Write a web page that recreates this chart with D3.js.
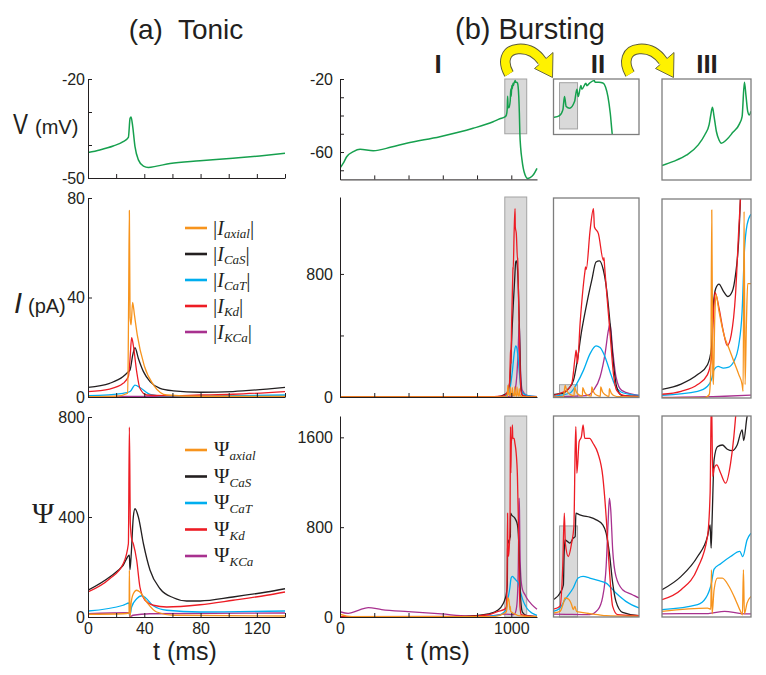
<!DOCTYPE html>
<html><head><meta charset="utf-8">
<script src="https://cdn.jsdelivr.net/npm/d3@7"></script>
<style>body{margin:0;background:#fff}</style>
</head><body><script>
// ---------------- DATA ----------------
const seriesNames = ["axial","CaS","CaT","Kd","KCa"];
// (a) Tonic: [t (ms), value]
const tonicV = [[0,-42.3],[8.4,-41.5],[17.9,-40.3],[25,-39],[28.7,-37.7],[29.9,-31.9],[30.6,-31.5],[31.8,-34.5],[33.4,-40.5],[35.8,-44.5],[39.4,-46.4],[42.9,-46.8],[48.8,-46.4],[58.3,-45.6],[79.6,-44.8],[103,-44],[122,-43.3],[140,-42.5]];
const tonicIaxial = [[0,0.1],[20,0.3],[28.2,1.5],[28.9,40],[29.4,75],[29.9,32],[30.6,29],[31.7,38],[33,33],[35,25],[40,12.5],[47,4.5],[56,0.8],[80,0.3],[140,0.2]];
const tonicICaS = [[0,3.9],[15.4,5.5],[25,8.2],[28.7,10.2],[29.9,10.9],[31.8,16.9],[33.4,19.8],[35.8,15.5],[39.4,10.2],[44.1,6.2],[51.2,3.5],[60.7,2.5],[79.6,1.9],[103,2.2],[127,3.2],[140,3.9]];
const tonicICaT = [[0,0.5],[25,1.5],[29.9,2.2],[33.4,4.8],[36.9,3.8],[44.1,1.1],[55.9,0.3],[103,0.5],[140,0.8]];
const tonicIKd = [[0,2.2],[15.4,3.2],[25,5.5],[28.7,8.2],[29.9,15.5],[31,23.9],[32.2,20.8],[34.6,10.2],[36.9,3.5],[41.7,0.8],[55.9,0.5],[79.6,0.8],[103,1.1],[140,2.2]];
const tonicIKCa = [[0,0.2],[70,0.2],[140,0.2]];
const tonicPaxial = [[0,11],[25,13],[29.2,16],[29.4,187],[29.8,0],[30.6,53],[32.2,93],[34.6,107],[36.9,100],[41.7,60],[48.8,20],[60.7,7],[140,4]];
const tonicPCaS = [[0,107],[15.4,160],[25,207],[29.4,247],[29.8,189],[30.6,240],[32.2,400],[33.4,433],[35.8,400],[39.4,293],[44.1,187],[51.2,113],[60.7,77],[70.1,64],[79.6,64],[103,80],[127,100],[140,113]];
const tonicPCaT = [[0,24],[25,47],[29.3,56],[29.8,7],[31,40],[34.6,73],[38.2,85],[41,76],[46.4,45],[55.9,27],[79.6,20],[140,24]];
const tonicPKd = [[0,100],[15.4,153],[25,213],[28.7,293],[29.4,760],[30.1,373],[31,313],[32.2,293],[34.6,227],[36.9,120],[40.5,67],[46.4,47],[55.9,40],[79.6,49],[103,67],[127,87],[140,100]];
const tonicPKCa = [[0,13],[29.2,17],[29.8,0],[32,7],[44,13],[140,16]];

// (b) Bursting, whole cycle (panels I and II)
const burstV = [[0,-68.8],[20,-66],[39,-62.6],[78,-59.8],[117,-58.5],[194,-59.3],[300,-57.3],[389,-55.2],[583,-51.6],[777,-47],[894,-43.4],[933,-41.8],[962,-40.8],[971,-39.8],[976,-36.7],[978.5,-29.5],[981,-34.9],[986,-35.8],[993.5,-32.2],[997,-25.5],[999,-29.5],[1003,-23.5],[1004.5,-25.5],[1010.5,-22.3],[1012,-23.6],[1016,-22.2],[1023,-20.8],[1024.5,-21.8],[1030,-21.8],[1036,-22.2],[1040,-24.4],[1043.5,-29.5],[1047,-38.5],[1050,-50],[1055,-58],[1062,-64],[1070,-69],[1080,-72.5],[1095,-74.5],[1110,-74],[1130,-72.3],[1150,-69]];
const burstIaxial = [[0,0.5],[960,1],[977,3],[979.4,76],[982,40],[987,15],[992.8,8],[993.4,65],[996,35],[1000,14],[1005.2,6],[1005.8,61],[1008.5,32],[1012,14],[1018.7,6],[1019.3,65],[1022,33],[1026,13],[1032.1,5],[1032.7,65],[1035.5,32],[1040,13],[1045.1,4],[1045.7,54],[1048.5,25],[1053,8],[1060,2],[1090,1],[1150,0.5]];
const burstICaS = [[0,0.5],[900,2],[940,6],[962,17],[977,26],[984.4,54],[991.9,108],[996.9,217],[1004.3,434],[1011.8,607],[1019.3,759],[1025.7,878],[1030.7,885],[1036.7,824],[1041.7,694],[1046.7,477],[1051.7,217],[1056.6,65],[1064.1,11],[1090,3],[1150,1]];
const burstICaT = [[0,0.2],[940,2],[962,6],[986.9,26],[996.9,87],[1006.8,173],[1016.8,282],[1025.7,332],[1031.7,321],[1039.2,260],[1046.7,163],[1054.1,76],[1066.6,26],[1090,11],[1150,2]];
const burstIKd = [[0,0.5],[900,2],[940,5],[962,11],[977,33],[982,43],[989.4,87],[994.4,260],[995.9,304],[997.9,217],[1001.8,477],[1009.3,824],[1010,846],[1011,830],[1016.8,1084],[1021.8,1225],[1023.3,1105],[1029.2,1062],[1036.7,889],[1037.5,905],[1038.5,850],[1041.7,672],[1046.7,412],[1051.7,152],[1056.6,43],[1066.6,11],[1090,4],[1150,1]];
const burstIKCa = [[0,0.5],[962,2],[1011.8,9],[1021.8,43],[1031.7,130],[1039.2,282],[1044.2,434],[1046.7,477],[1050.6,304],[1055.6,130],[1064.1,43],[1090,11],[1150,3]];
const burstPaxial = [[0,25],[40,8],[100,3],[900,4],[962,36],[971.8,50],[976.8,124],[979.2,169],[984.2,160],[989.1,110],[991.5,65],[994,95],[996.5,50],[1003.8,41],[1008.8,36],[1016.2,30],[1028.5,21],[1040.8,12],[1090,6],[1150,3]];
const burstPCaS = [[0,2],[700,4],[787,12],[865,27],[923,62],[953,121],[962,154],[971.8,213],[976.8,287],[977.8,539],[979.2,687],[982.7,673],[986.6,658],[991.5,702],[994.5,717],[995.5,924],[1001.4,910],[1006.3,901],[1016.2,889],[1026,865],[1035.8,821],[1040.8,747],[1045.7,569],[1050.6,302],[1055.5,139],[1065.4,41],[1090,12],[1150,3]];
const burstPCaT = [[0,1],[800,3],[923,15],[962,50],[971.8,80],[979.2,154],[991.5,258],[998.9,347],[1006.3,361],[1016.2,347],[1028.5,326],[1040.8,302],[1055.5,213],[1070.3,139],[1090,80],[1120,35],[1150,15]];
const burstPKd = [[0,3],[750,5],[865,20],[923,50],[962,70],[971.8,95],[975.8,450],[978.2,924],[979.7,658],[984.2,539],[989.1,658],[992.5,806],[994.5,1517],[995.5,1695],[997,1280],[1000.4,1561],[1003.8,1606],[1006.3,1710],[1008.8,1591],[1016.2,1591],[1021.1,1547],[1028.5,1458],[1035.8,1250],[1040.8,895],[1045.7,421],[1050.6,95],[1058,21],[1090,12],[1150,3]];
const burstPKCa = [[0,47],[48,33],[107,60],[165,84],[243,66],[398,47],[593,27],[748,9],[865,8],[962,25],[1016.2,21],[1028.5,65],[1035.8,184],[1040.8,450],[1043.7,836],[1045.7,1058],[1047.7,954],[1050.6,598],[1055.5,361],[1065.4,243],[1080.2,198],[1090,169],[1120,110],[1150,68]];

// (b) panel III: zoom on the first two spikes of the burst
const zoomV = [[971,-43.4],[974.5,-42.4],[978.5,-40.8],[982,-38.3],[984,-35.8],[985.3,-33.3],[985.8,-30.9],[986.3,-29],[986.8,-31.3],[987.5,-35],[988.3,-37.1],[989,-37.9],[990.5,-37.1],[992.5,-35.2],[994.5,-33.1],[995.3,-31.3],[996,-22.8],[996.5,-26.3],[997,-30],[997.5,-30.9],[998,-30]];
const zoomIaxial = [[971,0],[983.8,0],[985.3,1.3],[985.8,10.7],[986.1,75.6],[986.4,10.7],[986.6,5.4],[987,32],[987.4,41.5],[988.3,34.8],[989.8,25.4],[991.3,20],[992.8,14.7],[994.3,9.4],[995.3,5.4],[995.6,2.7],[995.9,75],[996.2,5.4],[996.6,29.4],[997,46],[998,46]];
const zoomICaS = [[971,3.5],[976.8,5.6],[981.8,9.4],[984.8,13.4],[986,20],[986.6,37.5],[987.3,44],[988.3,45.8],[989.6,43],[991,40.8],[992.3,42.8],[993.3,49.5],[994.3,64.2],[994.8,80],[995.5,100],[998,150]];
const zoomICaT = [[971,1.1],[981.8,2.7],[984.8,4.7],[986,7.4],[986.8,11.4],[988,12.7],[989.6,12],[991,12.3],[992.8,14.7],[994.3,21.4],[995.3,34.8],[996,58.9],[996.8,69.6],[998,73.9]];
const zoomIKd = [[971,1.5],[976.8,2.7],[981.8,5.4],[984.8,9.4],[986,16],[986.6,33.5],[987.1,42.5],[988.3,36.1],[989.6,26.8],[990.8,21.1],[992,25.4],[993.3,41.5],[994.3,68.2],[994.8,81],[996,150],[998,250]];
const zoomIKCa = [[971,0.2],[990,0.7],[998,1.2]];
const zoomPaxial = [[971,23],[984.8,36],[985.8,32],[986,190],[986.2,13],[986.8,110],[987.8,157],[989.3,157],[991.3,124],[993.3,70],[994.8,23],[995.4,9],[995.7,190],[996,13],[996.8,56],[998,83]];
const zoomPCaS = [[971,110],[976.8,164],[981.8,244],[984.8,325],[985.6,372],[985.9,278],[986.2,392],[986.8,634],[987.8,687],[989.3,694],[990.8,677],[992.3,671],[993.8,694],[995.3,755],[995.8,712],[996.8,808],[997.6,835],[998,850]];
const zoomPCaT = [[971,30],[981.8,50],[984.3,77],[986,137],[986.8,193],[988.8,215],[991.8,244],[994.6,265],[995.5,244],[996.8,311],[998,338]];
const zoomPKd = [[971,70],[976.8,110],[981.8,197],[984.8,325],[985.6,500],[986,900],[986.4,567],[986.8,600],[987.6,614],[988.8,580],[990.3,540],[991.8,620],[992.8,728],[993.5,835],[994.3,970],[998,1400]];
const zoomPKCa = [[971,13],[985,14],[990,23],[995,14],[998,13]];

// ticks
const tonicTimeTicks = [0,20,40,60,80,100,120,140];
const tonicTimeLabels = [0,40,80,120];
const burstTimeTicks = [0,200,400,600,800,1000];
const burstTimeLabels = [0,1000];

// ---------------- DRAWING ----------------
const svg = d3.select('body').append('svg').attr('width',766).attr('height',675)
  .style('font-family','"Liberation Sans", Arial, sans-serif');
const ink = '#231f20';
const colors = {axial:'#f7941d',CaS:'#231f20',CaT:'#00aeef',Kd:'#ed1c24',KCa:'#a8318f'};
const green = '#16a04e';
const drawOrder = ["KCa","CaT","CaS","Kd","axial"];

let clipN = 0;
function clip(x0,y0,x1,y1){
  const id='clip'+(clipN++);
  svg.append('clipPath').attr('id',id).append('rect')
    .attr('x',x0).attr('y',y0).attr('width',x1-x0).attr('height',y1-y0);
  return 'url(#'+id+')';
}
function drawLine(g,data,xs,ys,color,w){
  g.append('path').datum(data).attr('fill','none').attr('stroke',color)
   .attr('stroke-width',w||1.3).attr('stroke-linejoin','round')
   .attr('d',d3.line().x(d=>xs(d[0])).y(d=>ys(d[1])).curve(d3.curveMonotoneX));
}
function styleAxis(g){
  g.attr('font-size',16).attr('font-family','"Liberation Sans", Arial, sans-serif');
  g.selectAll('path,line').attr('stroke',ink).attr('stroke-width',1);
  g.selectAll('text').attr('fill',ink);
}
function leftAxis(ys,x,ticks,labels,pad){
  const g = svg.append('g').attr('transform',`translate(${x},0)`)
    .call(d3.axisLeft(ys).tickValues(ticks).tickSize(-4).tickSizeOuter(0).tickPadding(pad)
      .tickFormat(d=>labels.includes(d)?String(d):''));
  styleAxis(g);
}
function bottomAxis(xs,y,ticks,labels){
  const g = svg.append('g').attr('transform',`translate(0,${y})`)
    .call(d3.axisBottom(xs).tickValues(ticks).tickSize(-4).tickSizeOuter(0).tickPadding(6)
      .tickFormat(d=>labels.includes(d)?String(d):''));
  styleAxis(g);
}
function drawSet(sets,xs,ys,cp){
  const g = svg.append('g').attr('clip-path',cp);
  drawOrder.forEach(k=>drawLine(g,sets[k],xs,ys,colors[k]));
}
function grayBox(x0,y0,x1,y1){
  svg.append('rect').attr('x',x0).attr('y',y0).attr('width',x1-x0).attr('height',y1-y0)
    .attr('fill','#d9d9d9').attr('stroke','#a3a3a3').attr('stroke-width',1);
}
function frame(x0,y0,x1,y1){
  svg.append('rect').attr('x',x0).attr('y',y0).attr('width',x1-x0).attr('height',y1-y0)
    .attr('fill','none').attr('stroke','#7d7d7d').attr('stroke-width',1.3);
}

// ===== (a) Tonic =====
const xA = d3.scaleLinear([0,140],[88,285]);
const yAV = d3.scaleLinear([-50,-20],[178,79]);
const yAI = d3.scaleLinear([0,80],[397,198]);
const yAP = d3.scaleLinear([0,800],[617,417]);

drawLine(svg.append('g').attr('clip-path',clip(88,70,286,180)),tonicV,xA,yAV,green,1.5);
leftAxis(yAV,88,[-50,-40,-30,-20],[-50,-20],3);
bottomAxis(xA,178,tonicTimeTicks,[]);

drawSet({axial:tonicIaxial,CaS:tonicICaS,CaT:tonicICaT,Kd:tonicIKd,KCa:tonicIKCa},xA,yAI,clip(88,190,286,398));
leftAxis(yAI,88,[0,40,80],[0,40,80],3);
bottomAxis(xA,397,tonicTimeTicks,[]);

drawSet({axial:tonicPaxial,CaS:tonicPCaS,CaT:tonicPCaT,Kd:tonicPKd,KCa:tonicPKCa},xA,yAP,clip(88,410,286,618));
leftAxis(yAP,88,[0,400,800],[0,400,800],3);
bottomAxis(xA,617,tonicTimeTicks,tonicTimeLabels);

// legends
const subs = {axial:'axial',CaS:'CaS',CaT:'CaT',Kd:'Kd',KCa:'KCa'};
seriesNames.forEach((k,i)=>{
  const y = 228 + i*26;
  svg.append('line').attr('x1',185).attr('x2',207).attr('y1',y).attr('y2',y)
    .attr('stroke',colors[k]).attr('stroke-width',2.6);
  const t = svg.append('text').attr('x',213).attr('y',y+7).attr('fill',ink)
    .attr('font-family','"Liberation Serif", "Times New Roman", serif');
  t.append('tspan').attr('font-size',21).text('|');
  t.append('tspan').attr('font-size',20).attr('font-style','italic').text('I');
  t.append('tspan').attr('font-size',13).attr('font-style','italic').attr('dy',3).text(subs[k]);
  t.append('tspan').attr('font-size',21).attr('dy',-3).text('|');
});
seriesNames.forEach((k,i)=>{
  const y = 450 + i*26.5;
  svg.append('line').attr('x1',185).attr('x2',207).attr('y1',y).attr('y2',y)
    .attr('stroke',colors[k]).attr('stroke-width',2.6);
  const t = svg.append('text').attr('x',214).attr('y',y+6).attr('fill',ink)
    .attr('font-family','"Liberation Serif", "Times New Roman", serif');
  t.append('tspan').attr('font-size',21).text('Ψ');
  t.append('tspan').attr('font-size',13).attr('font-style','italic').attr('dy',4).text(subs[k]);
});

// axis titles (a)
svg.append('text').attr('x',13).attr('y',134).attr('font-size',30).attr('fill',ink)
  .attr('textLength',15).attr('lengthAdjust','spacingAndGlyphs').text('V');
svg.append('text').attr('x',35).attr('y',134).attr('font-size',20).attr('fill',ink).text('(mV)');
svg.append('text').attr('x',14).attr('y',313).attr('font-size',29).attr('font-style','italic').attr('fill',ink).text('I');
svg.append('text').attr('x',28).attr('y',313).attr('font-size',20).attr('fill',ink).text('(pA)');
svg.append('text').attr('x',32).attr('y',523).attr('font-size',30).attr('fill',ink)
  .attr('font-family','"Liberation Serif", "Times New Roman", serif').text('Ψ');
svg.append('text').attr('x',185).attr('y',660).attr('text-anchor','middle').attr('font-size',25).attr('fill',ink).text('t (ms)');
svg.append('text').attr('x',438).attr('y',660).attr('text-anchor','middle').attr('font-size',25).attr('fill',ink).text('t (ms)');

// titles
svg.append('text').attr('x',186).attr('y',39).attr('text-anchor','middle').attr('font-size',28).attr('fill',ink)
  .attr('xml:space','preserve').text('(a)  Tonic');
svg.append('text').attr('x',530).attr('y',39).attr('text-anchor','middle').attr('font-size',29).attr('fill',ink).text('(b) Bursting');
[['I',438],['II',598],['III',707]].forEach(([s,x])=>{
  svg.append('text').attr('x',x).attr('y',73).attr('text-anchor','middle').attr('font-size',26)
    .attr('font-weight','bold').attr('fill',ink).text(s);
});

// ===== (b) I =====
const xB = d3.scaleLinear([0,1150],[340,537]);
const yBV = d3.scaleLinear([-75,-20],[179.4,79]);
const yBI = d3.scaleLinear([0,1300],[397,197]);
const yBP = d3.scaleLinear([0,1790],[617,416]);
const burstWin = [962,1090];

grayBox(xB(burstWin[0]),yBV(-20),xB(burstWin[1]),yBV(-50));
drawLine(svg.append('g').attr('clip-path',clip(340,70,540,181)),burstV,xB,yBV,green,1.5);
leftAxis(yBV,340,[-70,-60,-50,-40,-30,-20],[-60,-20],7);
bottomAxis(xB,179.4,burstTimeTicks,[]);

const burstIsets = {axial:burstIaxial,CaS:burstICaS,CaT:burstICaT,Kd:burstIKd,KCa:burstIKCa};
grayBox(xB(burstWin[0]),yBI(1300),xB(burstWin[1]),yBI(0));
drawSet(burstIsets,xB,yBI,clip(340,190,540,398));
leftAxis(yBI,340,[0,400,800],[0,800],7);
bottomAxis(xB,397,burstTimeTicks,[]);

const burstPsets = {axial:burstPaxial,CaS:burstPCaS,CaT:burstPCaT,Kd:burstPKd,KCa:burstPKCa};
grayBox(xB(burstWin[0]),yBP(1790),xB(burstWin[1]),yBP(0));
drawSet(burstPsets,xB,yBP,clip(340,410,540,618));
leftAxis(yBP,340,[0,800,1600],[0,800,1600],7);
bottomAxis(xB,617,burstTimeTicks,burstTimeLabels);

// ===== (b) II =====
const xII = d3.scaleLinear(burstWin,[553.5,639]);
const yIIV = d3.scaleLinear([-50,-20],[134.5,79]);
const zoomWin = [971,998];
grayBox(xII(zoomWin[0]),yIIV(-22),xII(zoomWin[1]),yIIV(-47));
drawLine(svg.append('g').attr('clip-path',clip(553.5,79,639,134.5)),burstV,xII,yIIV,green,1.5);
frame(553.5,79,639,134.5);

grayBox(xII(zoomWin[0]),yBI(80),xII(zoomWin[1]),yBI(0));
drawSet(burstIsets,xII,yBI,clip(553.5,198,639,397.5));
frame(553.5,198,639,397.5);

grayBox(xII(zoomWin[0]),yBP(811),xII(zoomWin[1]),yBP(0));
drawSet(burstPsets,xII,yBP,clip(553.5,416,639,617));
frame(553.5,416,639,617);

// ===== (b) III =====
const xIII = d3.scaleLinear(zoomWin,[662,751]);
const yIIIV = d3.scaleLinear([-47,-22],[180,79]);
const yIIII = d3.scaleLinear([0,80],[398,199]);
const yIIIP = d3.scaleLinear([0,811],[617,416]);
drawLine(svg.append('g').attr('clip-path',clip(662,79,751,180)),zoomV,xIII,yIIIV,green,1.5);
frame(662,79,751,180);
drawSet({axial:zoomIaxial,CaS:zoomICaS,CaT:zoomICaT,Kd:zoomIKd,KCa:zoomIKCa},xIII,yIIII,clip(662,199,751,398));
frame(662,199,751,398);
drawSet({axial:zoomPaxial,CaS:zoomPCaS,CaT:zoomPCaT,Kd:zoomPKd,KCa:zoomPKCa},xIII,yIIIP,clip(662,416,751,617));
frame(662,416,751,617);

// ===== yellow arrows =====
function arrow(dx){
  const g = svg.append('g').attr('transform',`translate(${dx},0)`);
  const body = 'M509,74 C502,62 505,50 518,49 C529,48 537,54 542,61';
  g.append('path').attr('d',body).attr('fill','none').attr('stroke','#5a5a3a').attr('stroke-width',10.5);
  g.append('path').attr('d','M553,52.5 L552.5,77.5 L534.5,68.5 Z').attr('fill','#fff200')
    .attr('stroke','#5a5a3a').attr('stroke-width',0.9).attr('stroke-linejoin','round');
  g.append('path').attr('d',body+' L543.5,63').attr('fill','none').attr('stroke','#fff200').attr('stroke-width',8.6);
}
arrow(0);
arrow(121);
</script></body></html>
